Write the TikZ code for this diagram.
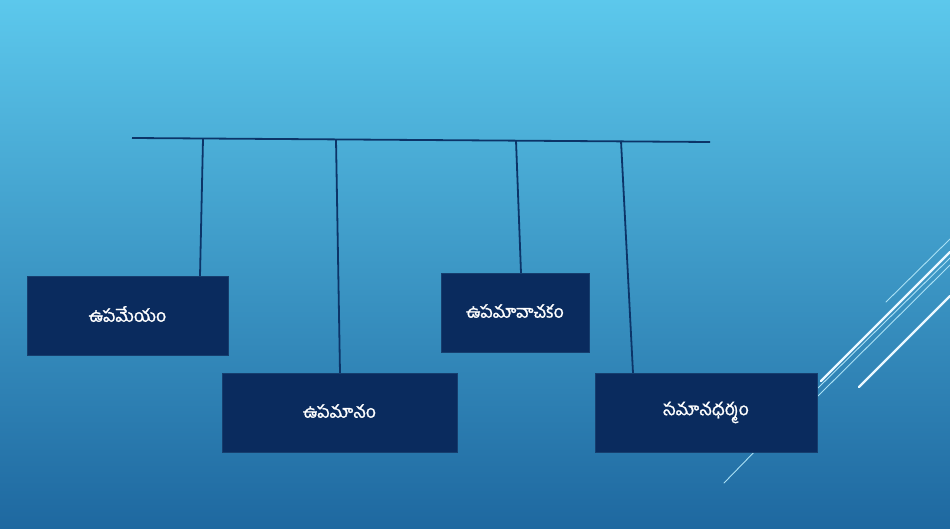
\documentclass[tikz,border=0pt]{standalone}
\usepackage{fontspec}
\newfontfamily\telugu[Script=Telugu,FakeBold=1.2]{Hind Guntur}
\definecolor{bgtop}{RGB}{92,200,236}
\definecolor{bgmid}{RGB}{58,150,200}
\definecolor{bgbot}{RGB}{30,104,160}
\definecolor{boxfill}{RGB}{10,43,94}
\definecolor{boxedge}{RGB}{22,62,110}
\definecolor{linkcol}{RGB}{12,52,104}
\definecolor{deco}{RGB}{235,248,255}
\definecolor{decothin}{RGB}{170,225,245}
\newcommand{\uptext}[1]{\raisebox{3pt}{#1}}
\tikzset{
  box/.style={draw=boxedge, line width=0.6pt, fill=boxfill, text=white,
    inner sep=0pt, font=\telugu\fontsize{17.5}{20}\selectfont},
  link/.style={draw=linkcol, line width=1.8pt},
  decothick/.style={draw=deco, line width=2.4pt, line cap=round},
  decoline/.style={draw=decothin, line width=0.9pt, line cap=round},
}
\begin{document}
\begin{tikzpicture}[x=1pt,y=-1pt]
\shade[top color=bgtop, middle color=bgmid, bottom color=bgbot] (0,0) rectangle (950,529);
\useasboundingbox (0,0) rectangle (950,529);
% decorative lines
\draw[decoline] (886,302) -- (950,239);
\draw[decothick] (821,381) -- (950,252);
\draw[decoline] (818,388) -- (950,258);
\draw[decoline] (818,396) -- (950,265);
\draw[decothick] (859,387) -- (950,296);
\draw[decoline] (724,483) -- (760,446);
% top bar
\coordinate (barL) at (132,138);
\coordinate (barR) at (710,142);
\draw[link] (barL) -- (barR);
\coordinate (t1) at (203,139);
\coordinate (t2) at (336,139.5);
\coordinate (t3) at (516,140.5);
\coordinate (t4) at (621,141);
\coordinate (c1) at (200,276);
\coordinate (c2) at (340,373);
\coordinate (c3) at (521,273);
\coordinate (c4) at (633,373);
\draw[link] (t1) -- (c1);
\draw[link] (t2) -- (c2);
\draw[link] (t3) -- (c3);
\draw[link] (t4) -- (c4);
% boxes
\node[box, minimum width=201pt, minimum height=79pt] (b1) at (127.5,315.5) {\uptext{ఉపమేయం}};
\node[box, minimum width=235pt, minimum height=79pt] (b2) at (339.5,412.5) {\uptext{ఉపమానం}};
\node[box, minimum width=148pt, minimum height=79pt] (b3) at (515,312.5) {\uptext{ఉపమావాచకం}};
\node[box, minimum width=222pt, minimum height=79pt] (b4) at (706,412.5) {\uptext{సమానధర్మం}};
\end{tikzpicture}
\end{document}
